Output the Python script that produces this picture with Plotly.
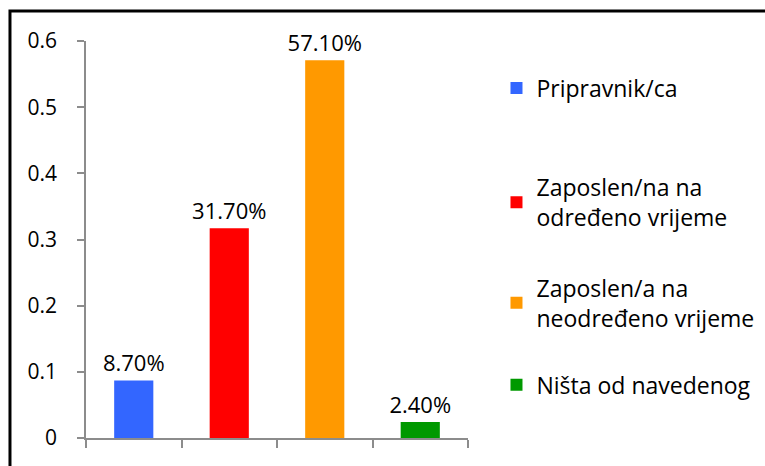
import plotly.graph_objects as go

categories = ["Pripravnik/ca", "Zaposlen/na na<br>određeno vrijeme",
              "Zaposlen/a na<br>neodređeno vrijeme", "Ništa od navedenog"]
values = [0.087, 0.317, 0.571, 0.024]
colors = ["#3366FF", "#FF0000", "#FF9900", "#009900"]
y_ticks = [0, 0.1, 0.2, 0.3, 0.4, 0.5, 0.6]
y_tick_text = ["0", "0.1", "0.2", "0.3", "0.4", "0.5", "0.6"]

FONT = "Open Sans"
AXIS_GREY = "#8C8C8C"

# legend placement (container coords), one legend per entry like Excel spacing
legend_y = [0.811, 0.566, 0.350, 0.174]
legend_ids = ["legend", "legend2", "legend3", "legend4"]

fig = go.Figure()
for i, (cat, val, col) in enumerate(zip(categories, values, colors)):
    fig.add_trace(go.Bar(
        x=[cat],
        y=[val],
        name=cat,
        marker=dict(color=col, line=dict(width=0)),
        width=0.41,
        texttemplate="%{y:.2%}",
        textposition="outside",
        constraintext="none",
        textfont=dict(family=FONT, size=22, color="black"),
        cliponaxis=False,
        legend=legend_ids[i],
    ))

legend_style = dict(
    xref="container", yref="container",
    x=0.649, xanchor="left", yanchor="middle",
    font=dict(family=FONT, size=23, color="black"),
    bgcolor="rgba(0,0,0,0)",
    borderwidth=0,
)

fig.update_layout(
    width=765,
    height=466,
    margin=dict(l=86, r=297, t=41, b=28, autoexpand=False),
    barmode="overlay",
    plot_bgcolor="white",
    paper_bgcolor="white",
    font=dict(family=FONT, size=21, color="black"),
    showlegend=True,
    legend=dict(y=legend_y[0], **legend_style),
    legend2=dict(y=legend_y[1], **legend_style),
    legend3=dict(y=legend_y[2], **legend_style),
    legend4=dict(y=legend_y[3], **legend_style),
)

fig.update_xaxes(
    type="category",
    showticklabels=False,
    tickson="boundaries",
    ticks="outside",
    ticklen=8,
    tickwidth=1.5,
    tickcolor=AXIS_GREY,
    showline=True,
    linecolor=AXIS_GREY,
    linewidth=1.5,
    showgrid=False,
    zeroline=False,
)

fig.update_yaxes(
    range=[0, 0.6],
    tickvals=y_ticks,
    ticktext=y_tick_text,
    ticks="outside",
    ticklen=7,
    tickwidth=1.5,
    tickcolor=AXIS_GREY,
    ticklabelstandoff=16,
    showline=True,
    linecolor=AXIS_GREY,
    linewidth=1.5,
    showgrid=False,
    zeroline=False,
    tickfont=dict(family=FONT, size=21, color="black"),
)

# outer chart frame (cropped at right/bottom in the original)
fig.add_shape(
    type="rect", xref="paper", yref="paper",
    x0=-0.199, x1=1.9, y0=-0.2, y1=1.0756,
    line=dict(color="black", width=3),
    layer="below",
)

fig.write_html("out.html", config={"displayModeBar": False},
               post_script="document.body.style.margin='0';")
